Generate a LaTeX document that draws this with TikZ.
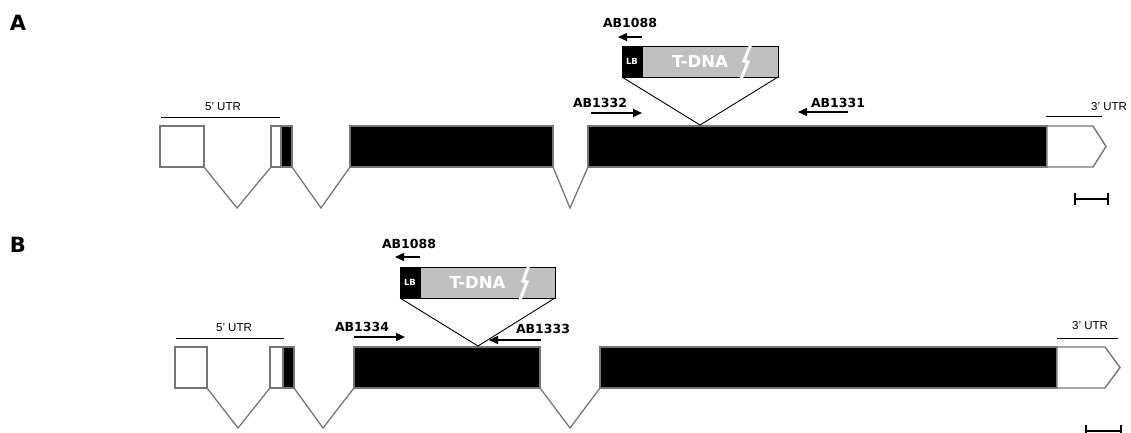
\documentclass[tikz,border=0pt]{standalone}
\usepackage{fontspec}
\setmainfont{Liberation Sans}
\newfontfamily\djv{DejaVu Sans}
\usetikzlibrary{arrows.meta}
\definecolor{exongray}{RGB}{118,118,118}
\definecolor{tdnagray}{RGB}{192,192,192}
\tikzset{
  exon/.style={draw=exongray,line width=1.4pt},
  intron/.style={draw=exongray,line width=1.3pt},
  utr/.style={line width=0.9pt},
  primer/.style={line width=1.3pt,-{Triangle[length=9pt,width=8pt]}},
  plabel/.style={font=\djv\bfseries\fontsize{12.5}{14}\selectfont,inner sep=0pt},
  ulabel/.style={font=\fontsize{11.5}{13}\selectfont,inner sep=0pt},
  panel/.style={font=\djv\bfseries\fontsize{21}{24}\selectfont,inner sep=0pt},
  tdna/.style={draw,line width=1pt,fill=tdnagray,text=white,minimum height=31pt,inner sep=0pt,outer sep=0pt,font=\djv\bfseries\fontsize{16.5}{18}\selectfont},
  lbbox/.style={draw,line width=1pt,fill=black,text=white,minimum width=20pt,minimum height=31pt,inner sep=0pt,outer sep=0pt,font=\djv\bfseries\fontsize{8.5}{10}\selectfont,anchor=north west},
  gap/.style={draw=white,line width=3pt},
  scalebar/.style={line width=2.2pt,{Bar[width=12pt]}-{Bar[width=12pt]}}
}
\begin{document}
\begin{tikzpicture}[x=1pt,y=-1pt]
\useasboundingbox (0,0) rectangle (1131,432);
% panel A
\node[panel] (labA) at (18,23) {A};
\foreach \a/\b/\c in {160/204/white,271/281/white,281/292/black,350/553/black,588/1047/black}
  \draw[exon,fill=\c](\a,126)rectangle(\b,167);
\draw[exon,fill=white](1047,126)--(1093,126)--(1106,146.5)--(1093,167)--(1047,167)--cycle;
\foreach \a/\m/\b in {204/237/271,292/321/350,553/570/588}
  \draw[intron](\a,167)--(\m,208)--(\b,167);
\draw[utr](161,117)--(280,117);
\node[ulabel] (utr5A) at (223,107) {5' UTR};
\draw[utr](1046,116)--(1102,116);
\node[ulabel] (utr3A) at (1109,107) {3' UTR};
\node[tdna,minimum width=156pt] (tdnaA) at (700,61.5) {T-DNA};
\node[lbbox] (lbA) at (tdnaA.north west) {LB};
\draw[gap](751,44)--(744,61)--(748,62)--(741,79);
\coordinate (insA) at (700,125);
\draw[line width=0.9pt](tdnaA.south west)--(insA)--(tdnaA.south east);
\node[plabel] (p1088A) at (630,23) {AB1088};
\draw[primer](642,37)--(618,37);
\node[plabel] (p1332) at (600,103) {AB1332};
\draw[primer](591,113)--(642,113);
\node[plabel] (p1331) at (838,103) {AB1331};
\draw[primer](848,112)--(798,112);
\draw[scalebar](1074,199)--(1109,199);
% panel B
\node[panel] (labB) at (18,245) {B};
\foreach \a/\b/\c in {175/207/white,270/283/white,283/294/black,354/540/black,600/1057/black}
  \draw[exon,fill=\c](\a,347)rectangle(\b,388);
\draw[exon,fill=white](1057,347)--(1105,347)--(1120,367.5)--(1105,388)--(1057,388)--cycle;
\foreach \a/\m/\b in {207/238/270,294/323/354,540/570/600}
  \draw[intron](\a,388)--(\m,428)--(\b,388);
\draw[utr](176,338)--(284,338);
\node[ulabel] (utr5B) at (234,328) {5' UTR};
\draw[utr](1057,338)--(1118,338);
\node[ulabel] (utr3B) at (1090,326) {3' UTR};
\node[tdna,minimum width=155pt] (tdnaB) at (477.5,282.5) {T-DNA};
\node[lbbox] (lbB) at (tdnaB.north west) {LB};
\draw[gap](529,265)--(523,281)--(527,282)--(520,300);
\coordinate (insB) at (478,346);
\draw[line width=0.9pt](tdnaB.south west)--(insB)--(tdnaB.south east);
\node[plabel] (p1088B) at (409,244) {AB1088};
\draw[primer](420,257)--(395,257);
\node[plabel] (p1334) at (362,327) {AB1334};
\draw[primer](354,337)--(405,337);
\node[plabel] (p1333) at (543,329) {AB1333};
\draw[primer](541,340)--(489,340);
\draw[scalebar](1085,431)--(1122,431);
\end{tikzpicture}
\end{document}
